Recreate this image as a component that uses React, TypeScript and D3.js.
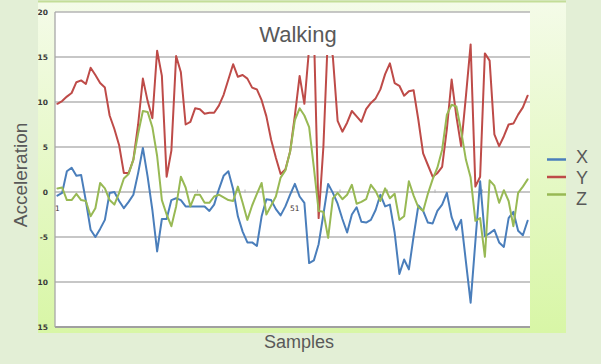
import React from 'react';
import * as d3 from 'd3';

// acceleration readings, one per sample
const accelX = [
  -0.4, -0.1, 2.3, 2.7, 1.8, 1.9, -1.0, -4.2, -5.0, -4.1,
  -3.1, -0.1, 0.0, -1.0, -1.8, -1.1, -0.3, 2.1, 4.9, 1.7,
  -2.0, -6.6, -3.0, -3.0, -0.9, -0.7, -0.9, -1.6, -1.6, -1.6,
  -1.6, -1.6, -2.1, -1.4, 0.3, 1.8, 2.3, 0.3, -2.7, -4.4,
  -5.6, -5.6, -6.0, -2.7, -0.8, -0.9, -1.9, -2.6, -1.6, -0.3,
  0.9, -0.5, -1.2, -7.9, -7.6, -5.8, -2.5, 0.9, -0.1, -1.3,
  -3.0, -4.5, -2.5, -1.7, -3.3, -3.4, -3.1, -2.0, -0.3, -1.6,
  -1.4, -4.5, -9.1, -7.5, -8.6, -4.9, -1.5, -2.1, -3.4, -3.5,
  -2.1, -1.4, -0.1, -2.8, -4.2, -3.1, -7.7, -12.3, -5.5, 1.2,
  -4.9, -4.6, -4.2, -5.6, -6.1, -2.9, -2.2, -4.3, -4.8, -3.2
];
const accelY = [
  9.8, 10.1, 10.6, 11.0, 12.2, 12.4, 12.0, 13.8, 13.0, 12.1,
  11.6, 8.5, 7.0, 5.2, 2.1, 2.1, 3.6, 7.5, 12.6, 10.1,
  8.2, 15.7, 12.9, 1.7, 4.6, 15.1, 13.3, 7.5, 7.8, 9.3,
  9.2, 8.7, 8.8, 8.8, 9.6, 10.8, 12.5, 14.2, 12.8, 13.0,
  12.6, 11.6, 11.4, 10.2, 8.4, 5.8, 3.8, 2.0, 2.5, 4.5,
  8.5, 12.9, 9.8, 16.0, 18.0, -2.9, 5.0, 18.0, 15.0, 7.9,
  6.7, 7.7, 9.0, 8.4, 7.8, 9.2, 9.9, 10.4, 11.4, 13.1,
  14.3, 12.1, 11.8, 10.7, 11.2, 11.3, 8.0, 4.3, 3.0, 1.7,
  2.1, 2.8, 7.0, 12.5, 8.4, 5.1, 10.6, 16.4, 0.6, 1.7,
  15.4, 14.6, 6.4, 5.1, 6.2, 7.5, 7.6, 8.6, 9.4, 10.7
];
const accelZ = [
  0.4, 0.5, -0.9, -0.9, -0.2, -0.9, -1.0, -2.7, -1.8, 1.0,
  0.4, -0.9, -1.4, -0.1, 1.5, 2.0, 3.6, 6.5, 9.0, 8.9,
  7.2, 4.0, -0.9, -2.5, -3.8, -1.6, 1.7, 0.5, -1.6, -0.3,
  -0.3, -1.2, -1.2, -0.5, -0.3, -0.6, -0.9, -1.0, 0.6, -1.2,
  -3.1, -1.5, -0.2, 1.0, -2.5, -1.5, -0.5, 1.6, 2.4, 4.5,
  8.0, 9.3, 8.5, 7.2, 2.7, -2.1, -2.2, -5.1, -0.7, -0.1,
  -0.8, -0.3, 0.8, -1.3, -1.1, -0.8, 0.8, 0.1, -1.0, 0.4,
  -0.7, -0.2, -3.1, -2.7, 1.2, -0.4, -1.7, -2.1, -0.2, 1.4,
  2.7, 4.7, 8.6, 9.7, 9.5, 6.8, 3.6, 1.6, -3.2, -2.9,
  -7.2, 1.3, 0.7, -1.2, 0.2, -1.0, -3.8, -0.1, 0.6, 1.4
];

const samples = accelX.map((_, i) => i + 1);
const xLabels = [1, 51];
const yTicks = [20, 15, 10, 5, 0, -5, -10, -15];

const series = [
  { name: 'X', values: accelX, color: '#4a7ebb' },
  { name: 'Y', values: accelY, color: '#be4b48' },
  { name: 'Z', values: accelZ, color: '#98b954' },
];

const W = 601, H = 364;
const plot = { left: 55, right: 530, top: 12, bottom: 327 };
const font = '"Liberation Sans", Arial, sans-serif';

export default function App() {
  const x = d3.scaleBand<number>().domain(samples).range([plot.left, plot.right]);
  const y = d3.scaleLinear().domain([-15, 20]).range([plot.bottom, plot.top]);
  const cx = (s: number) => (x(s) as number) + x.bandwidth() / 2;

  const line = (vals: number[]) =>
    d3.line<number>()
      .x((_, i) => cx(samples[i]))
      .y(d => y(d))(vals) as string;

  // category tick marks every 10 samples on the zero line
  const tickSamples = samples.filter(s => s % 10 === 0 && s < samples.length);

  return (
    <div style={{ position: 'fixed', left: 0, top: 0 }}>
      <svg width={W} height={H} style={{ display: 'block' }}>
        <defs>
          <linearGradient id="panelGrad" x1="0" y1="0" x2="0" y2="1">
            <stop offset="0%" stopColor="#f4fbe8" />
            <stop offset="100%" stopColor="#d8f6a6" />
          </linearGradient>
          <clipPath id="panelClip">
            <rect x={38} y={2} width={528} height={331} />
          </clipPath>
        </defs>

        <rect x={0} y={0} width={W} height={H} fill="#e3efd6" />
        <rect x={38} y={2} width={528} height={331} fill="url(#panelGrad)" />
        <line x1={38} x2={566} y1={1.5} y2={1.5} stroke="#c3dd98" strokeWidth={2} />
        <rect x={plot.left} y={plot.top} width={plot.right - plot.left}
          height={plot.bottom - plot.top} fill="#ffffff" />

        {/* gridlines */}
        {yTicks.map(t => (
          <line key={t} x1={plot.left} x2={plot.right} y1={y(t)} y2={y(t)}
            stroke={t === -15 ? '#a0a0a0' : '#b4b4b4'} strokeWidth={t === -15 ? 2 : 1.3} />
        ))}
        <line x1={plot.left} x2={plot.left} y1={plot.top} y2={plot.bottom}
          stroke="#a8a8a8" strokeWidth={1.3} />

        {/* y tick labels, cut off at the panel edge like the original */}
        <g clipPath="url(#panelClip)">
          {yTicks.map(t => (
            <text key={t} x={48} y={y(t) + 3} textAnchor="end" fontFamily='"DejaVu Sans", sans-serif'
              fontSize={7.5} fontWeight="bold" fill="#3a3a3a">{t}</text>
          ))}
        </g>

        {/* category ticks on zero line */}
        {tickSamples.map(s => {
          const tx = (x(s) as number) + x.bandwidth();
          return <line key={s} x1={tx} x2={tx} y1={y(0) - 2.5} y2={y(0) + 1}
            stroke="#b4b4b4" strokeWidth={1} />;
        })}
        {xLabels.map(s => (
          <text key={s} x={cx(s)} y={211} textAnchor="middle" fontFamily='"DejaVu Sans", sans-serif'
            fontSize={7.5} fill="#3d3330">{s}</text>
        ))}

        {/* series */}
        {series.map(s => (
          <path key={s.name} d={line(s.values)} fill="none" stroke={s.color}
            strokeWidth={2} strokeLinejoin="round" strokeLinecap="round" />
        ))}

        {/* title box */}
        <rect x={252} y={15} width={96} height={40} fill="#ffffff" />
        <text x={298} y={42} textAnchor="middle" fontFamily={font} fontSize={22} fill="#595959">Walking</text>

        {/* axis titles */}
        <text transform="translate(27,175) rotate(-90)" textAnchor="middle" fontFamily={font}
          fontSize={19} fill="#595959">Acceleration</text>
        <text x={299} y={348} textAnchor="middle" fontFamily={font} fontSize={18} fill="#595959">Samples</text>

        {/* legend */}
        {series.map((s, i) => {
          const ly = 159.5 + i * 17.5;
          return (
            <g key={s.name}>
              <line x1={547} x2={566} y1={ly} y2={ly} stroke={s.color} strokeWidth={2.5} />
              <text x={576} y={163 + i * 21} fontFamily={font} fontSize={18} fill="#595959">{s.name}</text>
            </g>
          );
        })}
      </svg>
    </div>
  );
}
